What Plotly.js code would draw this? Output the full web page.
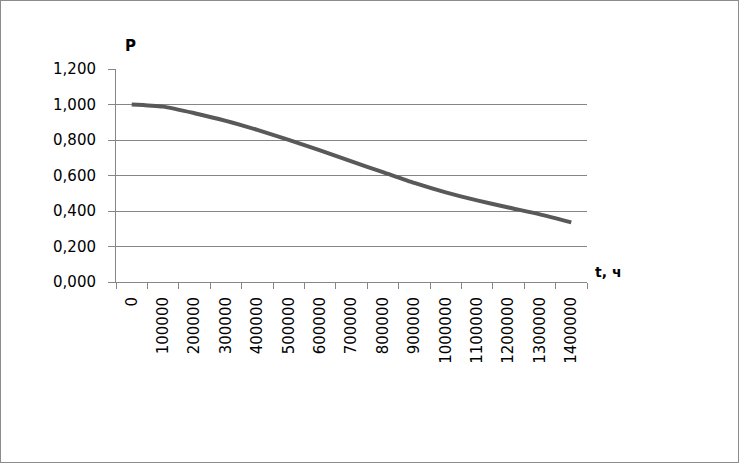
<!DOCTYPE html>
<html>
<head>
<meta charset="utf-8">
<script src="https://cdn.plot.ly/plotly-3.0.1.min.js"></script>
<style>
html,body{margin:0;padding:0;background:#fff;}
#frame{position:absolute;left:0;top:0;width:739px;height:463px;box-sizing:border-box;border:1px solid #8c8c8c;}
#chart{position:absolute;left:0;top:0;width:737px;height:461px;}
</style>
</head>
<body>
<div id="frame"><div id="chart"></div></div>
<script>
const categories = ["0","100000","200000","300000","400000","500000","600000","700000","800000","900000","1000000","1100000","1200000","1300000","1400000"];
const reliability = [1.000, 0.988, 0.951, 0.908, 0.857, 0.801, 0.741, 0.679, 0.619, 0.558, 0.505, 0.460, 0.420, 0.381, 0.336];
const yTickValues = [0, 0.2, 0.4, 0.6, 0.8, 1.0, 1.2];
const yTickLabels = ["0,000", "0,200", "0,400", "0,600", "0,800", "1,000", "1,200"];

const font = "DejaVu Sans, Verdana, sans-serif";

Plotly.newPlot("chart", [{
  type: "scatter",
  mode: "lines",
  x: categories,
  y: reliability,
  line: {color: "#595959", width: 4, shape: "spline", smoothing: 0.6},
  hoverinfo: "skip"
}], {
  width: 737,
  height: 461,
  margin: {l: 115, r: 151, t: 68, b: 180, pad: 0},
  paper_bgcolor: "#ffffff",
  plot_bgcolor: "#ffffff",
  showlegend: false,
  xaxis: {
    type: "category",
    range: [-0.5, 14.5],
    tickson: "boundaries",
    ticks: "outside",
    ticklen: 6,
    tickcolor: "#868686",
    tickwidth: 1,
    tickangle: -90,
    tickfont: {family: font, size: 15, color: "#000"},
    ticklabelstandoff: 8,
    showgrid: false,
    showline: true,
    linecolor: "#868686",
    linewidth: 1,
    zeroline: false,
    fixedrange: true
  },
  yaxis: {
    range: [0, 1.2],
    tickvals: yTickValues,
    ticktext: yTickLabels,
    ticks: "outside",
    ticklen: 7,
    tickcolor: "#868686",
    tickwidth: 1,
    tickfont: {family: font, size: 15, color: "#000"},
    ticklabelstandoff: 9,
    showgrid: true,
    gridcolor: "#868686",
    gridwidth: 1,
    showline: true,
    linecolor: "#868686",
    linewidth: 1,
    zeroline: false,
    fixedrange: true
  },
  annotations: [
    {text: "<b>P</b>", xref: "paper", yref: "paper", x: 0.031, y: 1.0, yshift: 23, xanchor: "center", yanchor: "middle", showarrow: false, font: {family: font, size: 15, color: "#000"}},
    {text: "<b>t, ч</b>", xref: "paper", yref: "paper", x: 1.0, y: 0, xshift: 21, yshift: 10, xanchor: "center", yanchor: "middle", showarrow: false, font: {family: font, size: 14, color: "#000"}}
  ]
}, {displayModeBar: false, staticPlot: true});
</script>
</body>
</html>
